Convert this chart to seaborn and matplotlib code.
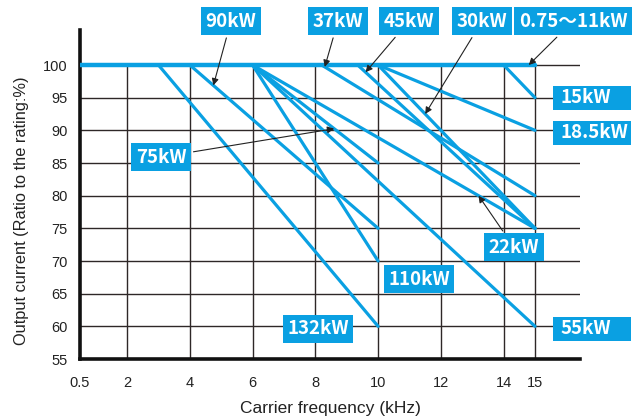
import numpy as np
import pandas as pd
import matplotlib.pyplot as plt
from matplotlib.patches import Rectangle
import seaborn as sns

# Derating lines: each model holds 100% up to freq_start, then falls linearly
models = ["0.75～11kW", "15kW", "18.5kW", "22kW", "30kW", "37kW", "45kW",
          "55kW", "75kW", "90kW", "110kW", "132kW"]
freq_start = [0.5, 14, 10, 6, 10, 8.2, 9.35, 6, 6, 4, 6, 3]
freq_end = [15, 15, 15, 15, 15, 15, 15, 15, 10, 10, 10, 10]
current_end = [100, 95, 90, 75, 75, 80, 75, 60, 85, 75, 70, 60]

x_ticks = [0.5, 2, 4, 6, 8, 10, 12, 14, 15]
x_ticklabels = ["0.5", "2", "4", "6", "8", "10", "12", "14", "15"]
y_ticks = [55, 60, 65, 70, 75, 80, 85, 90, 95, 100]

# frequency on each line where the label's arrow points (None = no arrow)
arrow_freq = [14.8, None, None, 13.2, 11.5, 8.3, 9.6, None, 8.6, 4.75, None, None]
# label box centres (layout); None = boxed at the right edge
label_pos = [(16.21, 106.7), None, None, (14.33, 72.1),
             (13.31, 106.7), (8.72, 106.7), (10.98, 106.7), None,
             (3.08, 85.9), (5.31, 106.7), (11.30, 67.2), (8.08, 59.6)]
right_label_y = {"15kW": 94.95, "18.5kW": 89.6, "55kW": 59.6}

rows = []
for m, f0, f1, c1 in zip(models, freq_start, freq_end, current_end):
    rows.append({"model": m, "freq": f0, "current": 100})
    rows.append({"model": m, "freq": f1, "current": c1})
df = pd.DataFrame(rows)

blue = "#0aa0e2"

sns.set_style("white")
plt.rcParams["font.family"] = ["Liberation Sans", "DejaVu Sans"]
label_family = ["Liberation Sans Narrow", "Noto Sans CJK JP", "DejaVu Sans"]

fig = plt.figure(figsize=(6.41, 4.19), dpi=100)
ax = fig.add_axes([80 / 641, 60 / 419, 500 / 641, 329 / 419])
xmax = 0.5 + 500 / 31.38
ymax = 100 + 35 / 6.533
ax.set_xlim(0.5, xmax)
ax.set_ylim(55, ymax)

# grid
ax.hlines(y_ticks[1:], 0.5, xmax, color="#2e2828", lw=1.0, zorder=1)
ax.vlines(x_ticks[1:], 55, 100, color="#2e2828", lw=1.0, zorder=1)

sns.lineplot(data=df[df["model"] != models[0]], x="freq", y="current",
             units="model", estimator=None, color=blue, lw=2.3,
             ax=ax, zorder=3, legend=False)
sns.lineplot(data=df[df["model"] == models[0]], x="freq", y="current",
             color=blue, lw=3.2, ax=ax, zorder=4, legend=False)

for i, m in enumerate(models):
    f0, f1, c1 = freq_start[i], freq_end[i], current_end[i]
    if label_pos[i] is None:
        ty = right_label_y[m]
        ax.add_patch(Rectangle((15.57, ty - 1.84), 2.49, 3.68, fc=blue,
                               ec="none", clip_on=False, zorder=5))
        ax.text(15.80, ty, m, fontsize=13.5, fontweight="bold", color="white",
                ha="left", va="center", family=label_family, clip_on=False,
                zorder=6)
        continue
    tx, ty = label_pos[i]
    box = dict(boxstyle="square,pad=0.24", fc=blue, ec="none")
    kw = dict(fontsize=13.5, fontweight="bold", color="white", ha="center",
              va="center", bbox=box, family=label_family, zorder=6)
    if arrow_freq[i] is None:
        ax.text(tx, ty, m, clip_on=False, **kw)
    else:
        af = arrow_freq[i]
        av = np.interp(af, [f0, f1], [100, c1]) if f1 > f0 else 100
        ax.annotate(m, xy=(af, av), xytext=(tx, ty), annotation_clip=False,
                    arrowprops=dict(arrowstyle="-|>", color="#222222", lw=0.8,
                                    mutation_scale=10, shrinkA=2, shrinkB=0),
                    **kw)

for s in ["top", "right"]:
    ax.spines[s].set_visible(False)
for s in ["left", "bottom"]:
    ax.spines[s].set_linewidth(2.6)
    ax.spines[s].set_color("#111111")

ax.set_xticks(x_ticks)
ax.set_xticklabels(x_ticklabels)
ax.set_yticks(y_ticks)
ax.tick_params(length=0, labelsize=10.5, colors="#222222")
ax.tick_params(axis="x", pad=12)
ax.tick_params(axis="y", pad=9)
ax.set_xlabel("Carrier frequency (kHz)", fontsize=12.5, color="#222222", labelpad=8)
ax.set_ylabel("Output current (Ratio to the rating:%)", fontsize=11.8,
              color="#222222")
ax.yaxis.set_label_coords(-0.102, 0.45)

plt.savefig("out.png", dpi=100)
